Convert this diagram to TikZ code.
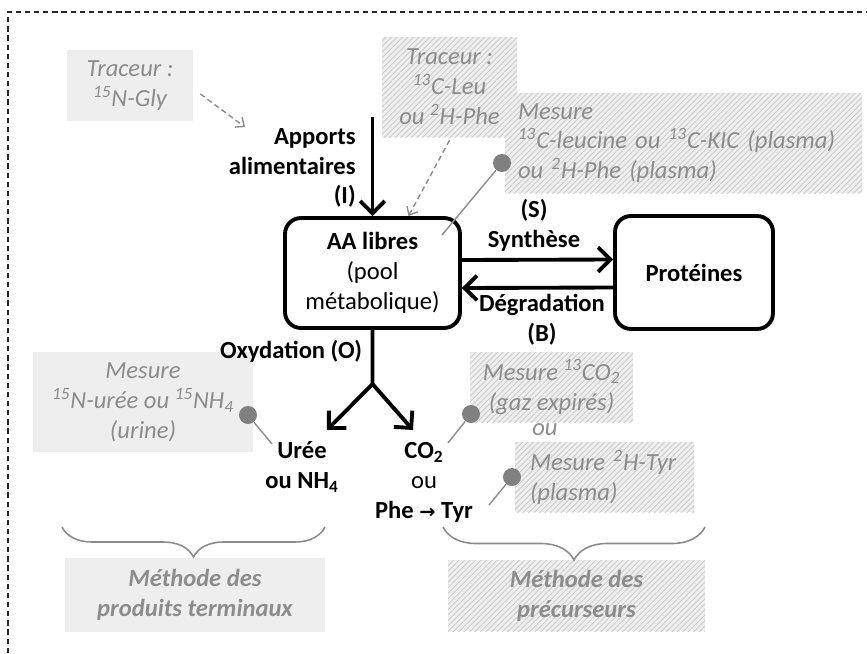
\documentclass[tikz,border=0pt]{standalone}
\usepackage{fontspec}
\setmainfont{Carlito}
\newfontfamily\symfont{DejaVu Sans}
\usepackage{tikz}
\usetikzlibrary{arrows.meta,positioning,patterns.meta,decorations.pathreplacing}
\definecolor{MTGray}{HTML}{8C8C8C}
\definecolor{MTLight}{HTML}{EEEEEE}
\definecolor{MTHatch}{HTML}{CDCDCD}
\definecolor{MTDot}{HTML}{808080}

\begin{document}
\begin{tikzpicture}[
        x=0.2mm, y=-0.2mm,
        every node/.style={font=\fontsize{14}{17}\selectfont},
        box/.style={rounded corners=0.32cm,draw,line width=2.2pt,align=center,inner sep=0pt},
        lbl/.style={font=\fontsize{14}{17}\selectfont\bfseries,align=center,inner sep=0pt},
        note/.style={fill=MTLight,text=MTGray,font=\fontsize{14}{17}\selectfont\itshape,align=center,inner sep=0pt},
        hatched/.style={note,postaction={pattern={Lines[angle=45,distance=2.2pt,line width=0.5pt]},pattern color=MTHatch}},
        flux/.style={-{Straight Barb[length=7pt,width=14pt]},line width=2.2pt},
        tracer/.style={-{Straight Barb[length=4pt,width=7pt]},dash pattern=on 3pt off 2pt,draw=MTGray,line width=0.8pt},
        probe/.style={draw=MTGray,line width=0.8pt},
        dot/.style={circle,fill=MTDot,minimum size=0.36cm,inner sep=0pt},
        brace/.style={decorate,decoration={brace,mirror,amplitude=#1},draw=MTGray,line width=0.9pt}
      ]
      \useasboundingbox (0,0) rectangle (867,653);
      \draw[dash pattern=on 3pt off 2.2pt,line width=0.9pt,draw=black!85] (8,653) |- (867,12);

      % tracers and measures
      \node[note,minimum width=2.52cm,minimum height=1.42cm] (trac1) at (130,85.5)
        {Traceur :\\\textsuperscript{15}N-Gly};
      \node[hatched,minimum width=2.7cm,minimum height=2cm] (trac2) at (449.5,87)
        {Traceur :\\\textsuperscript{13}C-Leu\\ou \textsuperscript{2}H-Phe};
      \node[hatched,minimum height=2cm,inner xsep=0.26cm,text width=6.62cm,align=left] (mes1) at (683.5,143)
        {Mesure\\\textsuperscript{13}C-leucine ou \textsuperscript{13}C-KIC (plasma)\\ou \textsuperscript{2}H-Phe (plasma)};
      \node[note,minimum width=4.4cm,minimum height=2cm] (mes2) at (143,402)
        {Mesure\\\textsuperscript{15}N-urée ou \textsuperscript{15}NH\textsubscript{4}\\(urine)};
      \node[hatched,minimum width=3.26cm,minimum height=1.4cm] (mes3) at (551.5,387)
        {Mesure \textsuperscript{13}CO\textsubscript{2}\\(gaz expirés)};
      \node[text=MTGray,font=\fontsize{14}{17}\selectfont\itshape,inner sep=0pt] (ou) at (545,430) {ou};
      \node[hatched,minimum height=1.4cm,inner xsep=0.3cm,text width=2.98cm,align=left] (mes4) at (604.5,477)
        {Mesure \textsuperscript{2}H-Tyr\\(plasma)};

      % methods
      \node[note,font=\fontsize{14}{17}\selectfont\bfseries\itshape,minimum width=5.2cm,minimum height=1.48cm] (meth1) at (195,595)
        {Méthode des\\produits terminaux};
      \node[hatched,font=\fontsize{14}{17}\selectfont\bfseries\itshape,minimum width=5.14cm,minimum height=1.42cm] (meth2) at (576.5,595.5)
        {Méthode des\\précurseurs};

      % pools
      \node[box,minimum width=3.5cm,minimum height=2.2cm] (aa) at (372.5,273)
        {\textbf{AA libres}\\(pool\\métabolique)};
      \node[box,minimum width=3.16cm,minimum height=2.26cm] (prot) at (694,272.5) {\textbf{Protéines}};

      % flux labels
      \node[lbl,anchor=east,align=right] (apports) at (356,168) {Apports\\alimentaires\\(I)};
      \node[lbl] (synth) at (534,225.5) {(S)\\Synthèse};
      \node[lbl] (degr) at (542,320) {Dégradation\\(B)};
      \node[lbl] (oxy) at (291,351) {Oxydation (O)};
      \node[lbl] (uree) at (302,467) {Urée\\ou NH\textsubscript{4}};
      \node[lbl] (co2) at (424,482) {CO\textsubscript{2}\\{\mdseries ou}\\Phe {\symfont\fontsize{11}{17}\selectfont →} Tyr};

      \node[dot] (d1) at (502,163) {};
      \node[dot] (d2) at (248,415) {};
      \node[dot] (d3) at (471,414) {};
      \node[dot] (d4) at (512,477) {};

      \coordinate (in) at (372.5,117);
      \coordinate (fork) at (372.5,384);
      \coordinate (utip) at (327,430);
      \coordinate (ctip) at (413,430);
      \coordinate (t1end) at (245,127);
      \coordinate (p1) at (442,235);
      \coordinate (p2) at (272,444);
      \coordinate (p3) at (448,443);
      \coordinate (p4) at (489,505);

      \draw[flux] (in) -- (aa.north);
      \draw[flux] ([yshift=0.26cm]aa.east) -- ([yshift=0.26cm]prot.west);
      \draw[flux] ([yshift=-0.3cm]prot.west) -- ([yshift=-0.3cm]aa.east);
      \draw[flux] (aa.south) -- (fork) -- (utip);
      \draw[flux] (fork) -- (ctip);

      \draw[tracer] ([xshift=0.14cm,yshift=-0.17cm]trac1.east) -- (t1end);
      \draw[tracer] ([yshift=-0.06cm]trac2.south) -- ([xshift=0.72cm]aa.north);

      \draw[probe] (d1) -- (p1);
      \draw[probe] (d2) -- (p2);
      \draw[probe] (d3) -- (p3);
      \draw[probe] (d4) -- (p4);

      \draw[brace=0.6cm] (62,527) -- (325,527);
      \draw[brace=0.66cm] (443,527) -- (705,527);
    \end{tikzpicture}
\end{document}
